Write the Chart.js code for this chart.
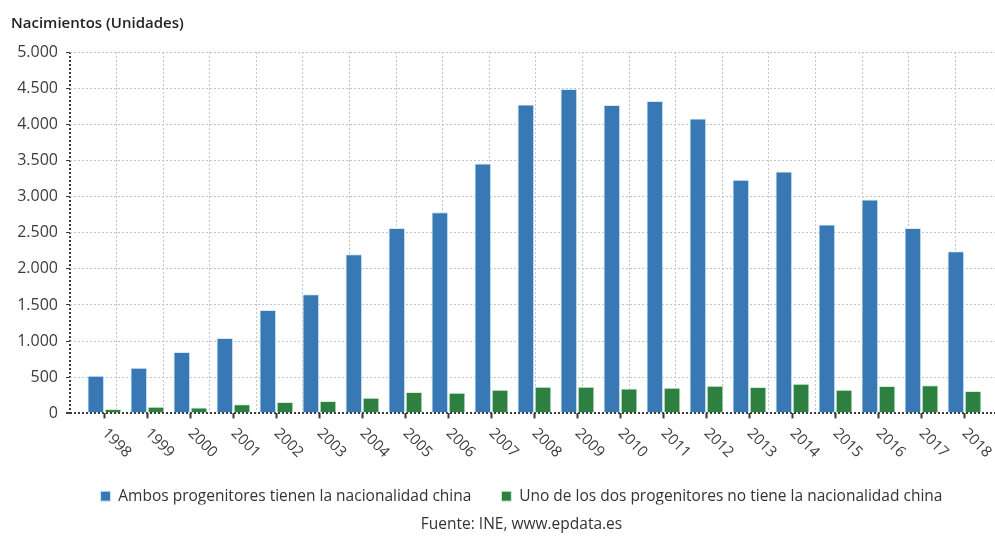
<!DOCTYPE html>
<html>
<head>
<meta charset="utf-8">
<script src="https://cdn.jsdelivr.net/npm/chart.js@4.4.0/dist/chart.umd.min.js"></script>
<style>
  body { margin: 0; background: #fff; }
  #wrap { position: relative; width: 995px; height: 536px; }
  #heading { position: absolute; left: 11px; top: 12px; font: 600 15px 'Open Sans', sans-serif; color: #222; }
</style>
</head>
<body>
<div id="wrap">
  <canvas id="chartNacimientos" width="995" height="536"></canvas>
  <div id="heading">Nacimientos (Unidades)</div>
</div>
<script>
const years = ['1998', '1999', '2000', '2001', '2002', '2003', '2004', '2005', '2006', '2007', '2008',
  '2009', '2010', '2011', '2012', '2013', '2014', '2015', '2016', '2017', '2018'];
const ambos = [520, 632, 849, 1043, 1431, 1648, 2202, 2566, 2784, 3457, 4274,
  4487, 4266, 4321, 4080, 3231, 3346, 2612, 2958, 2566, 2244];
const uno = [60, 91, 83, 125, 157, 170, 216, 295, 285, 327, 368,
  368, 346, 355, 382, 364, 410, 327, 378, 388, 309];
const yTicks = [0, 500, 1000, 1500, 2000, 2500, 3000, 3500, 4000, 4500, 5000];
const seriesNames = ['Ambos progenitores tienen la nacionalidad china', 'Uno de los dos progenitores no tiene la nacionalidad china'];
const source = 'Fuente: INE, www.epdata.es';

(function () {
  const palette = { blue: '#3878b4', green: '#2e8040', grid: '#c4c4c4', axis: '#3a3a3a', text: '#3c3c3c' };

  function fmt(v) {
    return String(v).replace(/\B(?=(\d{3})+(?!\d))/g, '.');
  }
  function points(values) {
    return values.map(function (v, i) { return { x: i, y: v }; });
  }
  function isZero(ctx) { return ctx.tick && ctx.tick.value === 0; }

  // legend + source are centred a bit right of the canvas centre in the original
  const shiftBottom = {
    id: 'shiftBottom',
    afterLayout: function (chart) {
      if (chart.legend) chart.legend.left += 48;
      if (chart.titleBlock) chart.titleBlock.left += 48;
    },
  };

  // rotated year labels (+45deg, reading down to the right)
  const yearLabels = {
    id: 'yearLabels',
    afterDraw: function (chart) {
      const xs = chart.scales.x;
      const ctx = chart.ctx;
      ctx.save();
      ctx.font = "15px 'Open Sans', sans-serif";
      ctx.fillStyle = palette.text;
      ctx.textAlign = 'left';
      ctx.textBaseline = 'alphabetic';
      years.forEach(function (yr, i) {
        const px = xs.getPixelForValue(i);
        ctx.save();
        ctx.translate(px - 3, chart.chartArea.bottom + 20.5);
        ctx.rotate(Math.PI / 4);
        ctx.fillText(yr, 0, 0);
        ctx.restore();
      });
      ctx.restore();
    },
  };

  Chart.defaults.font.family = "'Open Sans', sans-serif";
  Chart.defaults.color = palette.text;

  new Chart(document.getElementById('chartNacimientos'), {
    type: 'bar',
    data: {
      datasets: [
        { label: seriesNames[0], data: points(ambos), backgroundColor: palette.blue, borderColor: '#d6eaf4', borderWidth: 1, categoryPercentage: 0.8, barPercentage: 0.97 },
        { label: seriesNames[1], data: points(uno), backgroundColor: palette.green, borderColor: '#d6eedb', borderWidth: 1, categoryPercentage: 0.8, barPercentage: 0.97 },
      ],
    },
    plugins: [shiftBottom, yearLabels],
    options: {
      responsive: false,
      animation: false,
      layout: { padding: { left: 0, top: 52, right: 0, bottom: 0 } },
      plugins: {
        tooltip: { enabled: false },
        legend: {
          position: 'bottom',
          maxHeight: 46,
          labels: { boxWidth: 10, boxHeight: 10, padding: 30, color: '#333', font: { size: 15.5 } },
        },
        title: {
          display: true,
          position: 'bottom',
          text: source,
          color: '#333',
          font: { size: 15.5, weight: 'normal' },
          padding: { top: 11, bottom: 2 },
        },
      },
      scales: {
        x: {
          type: 'linear',
          position: 'bottom',
          min: -0.8,
          max: 20.71,
          offset: false,
          afterBuildTicks: function (scale) { scale.ticks = years.map(function (_, i) { return { value: i }; }); },
          afterFit: function (scale) { scale.height = 45; },
          ticks: { display: false },
          grid: { offset: false, drawOnChartArea: false, drawTicks: true, tickLength: 5, tickWidth: 2, tickColor: palette.axis },
          border: { display: false },
        },
        x2: {
          type: 'linear',
          position: 'bottom',
          min: 0,
          max: 19.85,
          offset: false,
          afterBuildTicks: function (scale) {
            const t = [];
            for (let v = 0; v <= 19; v++) t.push({ value: v });
            scale.ticks = t;
          },
          afterFit: function (scale) { scale.height = 0; },
          ticks: { display: false },
          grid: {
            offset: false,
            drawTicks: false,
            color: function (ctx) { return isZero(ctx) ? palette.axis : palette.grid; },
            lineWidth: function (ctx) { return isZero(ctx) ? 2 : 1; },
          },
          border: { display: false, dash: [2, 2] },
        },
        y: {
          min: 0,
          max: 5000,
          afterBuildTicks: function (scale) { scale.ticks = yTicks.map(function (v) { return { value: v }; }); },
          afterFit: function (scale) { scale.width = 70; },
          ticks: { padding: 8, color: palette.text, font: { size: 16 }, callback: function (v) { return fmt(v); } },
          grid: {
            tickLength: 4,
            tickColor: palette.axis,
            color: function (ctx) { return isZero(ctx) ? palette.axis : palette.grid; },
            lineWidth: function (ctx) { return isZero(ctx) ? 2 : 1; },
          },
          border: { display: false, dash: [2, 2] },
        },
      },
    },
  });
})();
</script>
</body>
</html>
